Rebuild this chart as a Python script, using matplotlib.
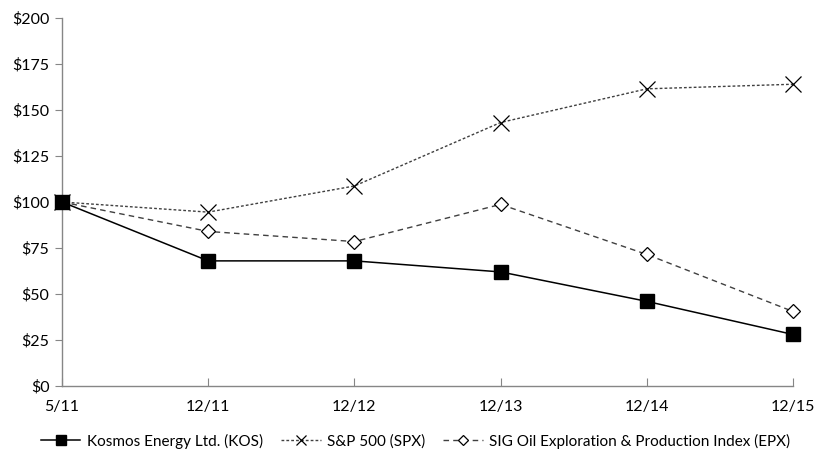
import matplotlib
matplotlib.use("Agg")
import matplotlib.pyplot as plt
from matplotlib.ticker import FuncFormatter

plt.rcParams['font.family'] = ['Lato', 'DejaVu Sans']

dates = ["5/11", "12/11", "12/12", "12/13", "12/14", "12/15"]
kos = [100, 68, 68, 62, 46, 28]
spx = [100, 94.5, 108.7, 143.2, 161.5, 164]
epx = [100, 84, 78.5, 98.7, 71.5, 40.5]

fig = plt.figure(figsize=(8.31, 4.69), dpi=100)
ax = fig.add_axes([62/831, 1-386/469, (793-62)/831, (386-18)/469])

x = list(range(len(dates)))
ax.plot(x, kos, color='black', lw=1.1, marker='s', ms=10, mfc='black', mec='black',
        label='Kosmos Energy Ltd. (KOS)', zorder=3, clip_on=False)
ax.plot(x, spx, color='#404040', lw=1.0, ls=(0, (2, 1.5)), marker='x', ms=11, mew=0.9,
        mec='black', label='S&P 500 (SPX)', zorder=2, clip_on=False)
ax.plot(x, epx, color='#404040', lw=1.0, ls=(0, (4, 3)), marker='D', ms=7.5, mew=0.9,
        mfc='white', mec='black', label='SIG Oil Exploration & Production Index (EPX)',
        zorder=2, clip_on=False)

ax.set_xlim(0, len(dates)-1)
ax.set_ylim(0, 200)
ax.set_yticks(range(0, 201, 25))
ax.yaxis.set_major_formatter(FuncFormatter(lambda v, p: f"${int(v)}"))
ax.set_xticks(x)
ax.set_xticklabels(dates)

for s in ['top', 'right']:
    ax.spines[s].set_visible(False)
for s in ['left', 'bottom']:
    ax.spines[s].set_color('#868686')
    ax.spines[s].set_linewidth(1.0)

ax.tick_params(axis='y', direction='out', length=5, color='#868686', labelsize=11.5, pad=4)
ax.tick_params(axis='x', direction='in', length=6, color='#868686', labelsize=11.5, pad=10)

leg = fig.legend(loc='center', bbox_to_anchor=(0.5, 1-441/469), ncol=3, frameon=False,
                 fontsize=11, handlelength=2.6, columnspacing=1.2, handletextpad=0.4,
                 markerscale=0.7)

fig.savefig("out.png", dpi=100)
